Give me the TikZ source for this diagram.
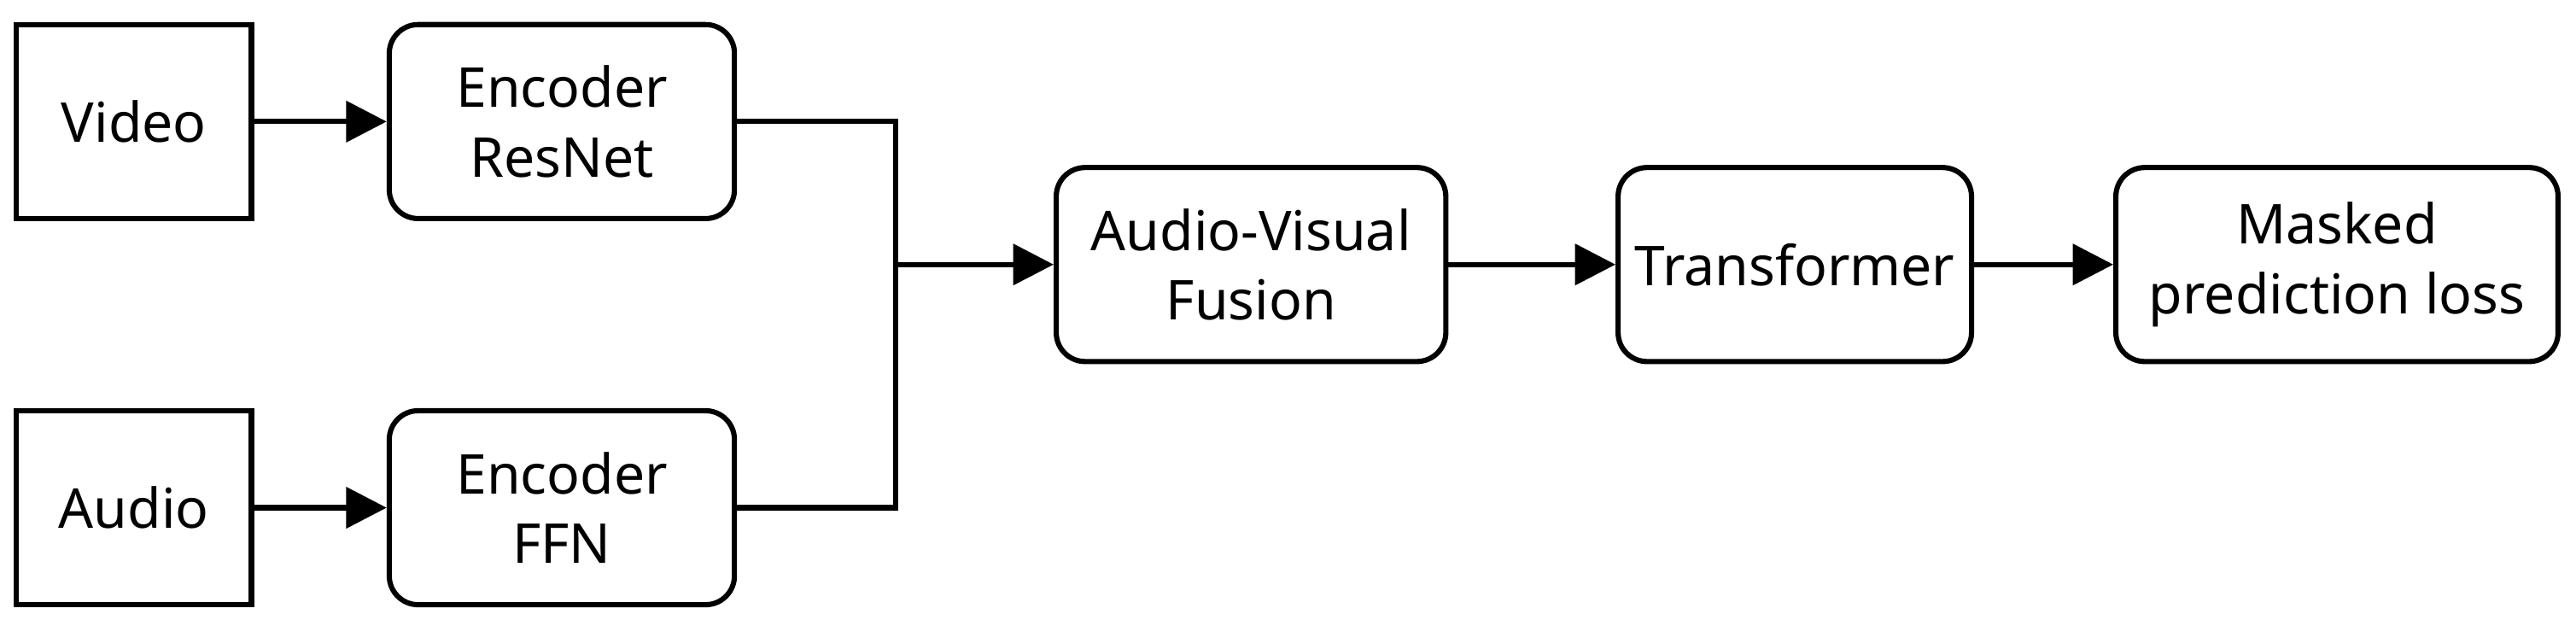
\documentclass[tikz,border=0pt]{standalone}
\usepackage{fontspec}
\setmainfont{Noto Sans}
\usetikzlibrary{arrows.meta}
\begin{document}
\begin{tikzpicture}[x=0.01cm,y=-0.01cm,
  box/.style={draw,line width=0.9pt,minimum height=1.18cm,align=center,font=\fontsize{9.5}{12}\selectfont,inner sep=0pt},
  sq/.style={box},
  rd/.style={box,rounded corners=5pt},
  con/.style={line width=0.9pt},
  arr/.style={con,-{Triangle[length=7pt,width=7pt]}}]
\useasboundingbox (0,0) rectangle (1568,377);
\node[sq,minimum width=1.43cm] (video) at (81.5,74) {Video};
\node[rd,minimum width=2.10cm] (res) at (342,74) {Encoder\\ResNet};
\node[sq,minimum width=1.43cm] (audio) at (81.5,309) {Audio};
\node[rd,minimum width=2.10cm] (ffn) at (342,309) {Encoder\\FFN};
\node[rd,minimum width=2.37cm] (fus) at (761.5,161) {Audio-Visual\\Fusion};
\node[rd,minimum width=2.15cm] (tr) at (1092.5,161) {Transformer};
\node[rd,minimum width=2.69cm] (mp) at (1422.5,161) {Masked\\prediction loss};
\coordinate (j) at (545,161);
\draw[arr] (video) -- (res);
\draw[arr] (audio) -- (ffn);
\draw[con] (res.east) -| (j);
\draw[con] (ffn.east) -| (j);
\draw[arr] (j) -- (fus);
\draw[arr] (fus) -- (tr);
\draw[arr] (tr) -- (mp);
\end{tikzpicture}
\end{document}
